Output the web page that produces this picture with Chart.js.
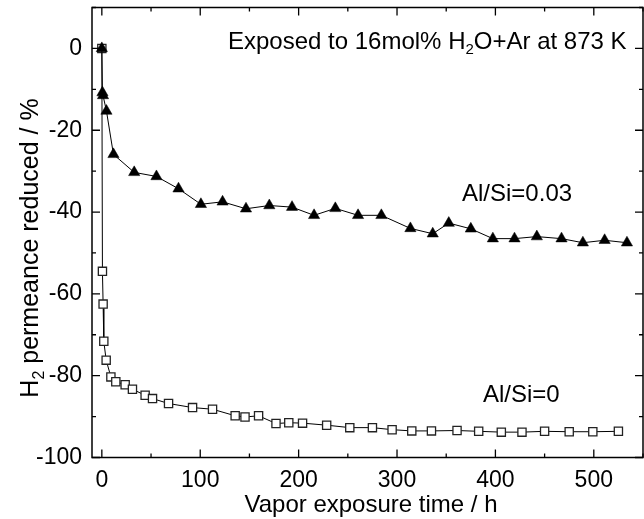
<!DOCTYPE html>
<html>
<head>
<meta charset="utf-8">
<script src="https://cdn.jsdelivr.net/npm/chart.js@4"></script>
<style>
  html, body { margin: 0; padding: 0; background: #fff; }
  #wrap { width: 644px; height: 519px; position: relative; }
</style>
</head>
<body>
<div id="wrap"><canvas id="chart" width="644" height="519"></canvas></div>
<script>
// Al/Si=0.03 (triangles)
const timeAl003 = [0, 0.6, 1.2, 4.7, 11.8, 32.9, 55.5, 77.9, 100.7, 122.7, 146.5, 170.2, 193.3, 215.7, 237.3, 260.4, 284.1, 313.6, 336.3, 352.6, 375, 397.4, 419.4, 442.1, 467.2, 488.9, 511, 533.7];
const reducedAl003 = [0, -10.8, -11.5, -15.3, -25.9, -30.3, -31.3, -34.3, -38.1, -37.5, -39.2, -38.4, -38.8, -40.8, -39.1, -40.8, -40.8, -44.0, -45.3, -42.7, -44.1, -46.5, -46.5, -46.0, -46.5, -47.5, -46.9, -47.5];

// Al/Si=0 (open squares)
const timeAl0 = [0, 0.6, 1.3, 2, 4.4, 9.2, 14.2, 23.7, 31.1, 44, 51.5, 67.8, 92.2, 112.5, 135.5, 145.5, 159.3, 177, 190, 204, 228.5, 252, 275, 295, 315, 335, 361, 383, 406, 427, 450, 475, 499, 525];
const reducedAl0 = [0, -54.5, -62.5, -71.6, -76.2, -80.3, -81.5, -82.2, -83.3, -84.8, -85.6, -86.8, -87.8, -88.2, -89.8, -90.1, -89.8, -91.7, -91.5, -91.6, -92.1, -92.7, -92.7, -93.2, -93.5, -93.5, -93.4, -93.6, -93.8, -93.8, -93.6, -93.7, -93.7, -93.6];

// оси
const xTickValues = [0, 100, 200, 300, 400, 500];
const xMinorValues = [50, 150, 250, 350, 450, 550];
const yTickValues = [0, -20, -40, -60, -80, -100];
const yMinorValues = [10, -10, -30, -50, -70, -90];

const FONT = "'Liberation Sans', Arial, sans-serif";

const toPoints = (xs, ys) => xs.map((x, i) => ({ x, y: ys[i] }));

// рамка, внутренние засечки и подписи
const framePlugin = {
  id: 'frame',
  afterDraw(chart) {
    const { ctx, chartArea: a, scales } = chart;
    const sx = scales.x, sy = scales.y;
    ctx.save();
    ctx.strokeStyle = '#000';
    ctx.lineWidth = 1.5;
    ctx.strokeRect(a.left, a.top, a.right - a.left, a.bottom - a.top);

    ctx.lineWidth = 1.3;
    ctx.beginPath();
    const tickX = (v, len) => {
      const px = sx.getPixelForValue(v);
      if (px < a.left || px > a.right) return;
      ctx.moveTo(px, a.bottom); ctx.lineTo(px, a.bottom - len);
      ctx.moveTo(px, a.top); ctx.lineTo(px, a.top + len);
    };
    const tickY = (v, len) => {
      const py = sy.getPixelForValue(v);
      if (py < a.top - 0.5 || py > a.bottom + 0.5) return;
      ctx.moveTo(a.left, py); ctx.lineTo(a.left + len, py);
      ctx.moveTo(a.right, py); ctx.lineTo(a.right - len, py);
    };
    xTickValues.forEach((v) => tickX(v, 8));
    xMinorValues.forEach((v) => tickX(v, 4));
    yTickValues.forEach((v) => tickY(v, 8));
    yMinorValues.forEach((v) => tickY(v, 4));
    ctx.stroke();

    ctx.fillStyle = '#000';
    ctx.textBaseline = 'alphabetic';

    // текст с подстрочным индексом
    const drawSub = (parts, x, y, size) => {
      let cx = x;
      parts.forEach(([txt, sub]) => {
        ctx.font = `${sub ? Math.round(size * 0.62) : size}px ${FONT}`;
        ctx.fillText(txt, cx, sub ? y + size * 0.22 : y);
        cx += ctx.measureText(txt).width;
      });
      return cx - x;
    };
    const measureSub = (parts, size) => {
      let w = 0;
      parts.forEach(([txt, sub]) => {
        ctx.font = `${sub ? Math.round(size * 0.62) : size}px ${FONT}`;
        w += ctx.measureText(txt).width;
      });
      return w;
    };

    drawSub([['Exposed to 16mol% H'], ['2', true], ['O+Ar at 873 K']], 228, 49, 24);

    ctx.font = `24px ${FONT}`;
    ctx.fillText('Al/Si=0.03', 462, 201);
    ctx.fillText('Al/Si=0', 483, 402);

    ctx.textAlign = 'center';
    ctx.fillText('Vapor exposure time / h', 371, 512);
    ctx.textAlign = 'left';

    const yTitle = [['H'], ['2', true], [' permeance reduced / %']];
    const w = measureSub(yTitle, 25);
    ctx.translate(38, 248);
    ctx.rotate(-Math.PI / 2);
    drawSub(yTitle, -w / 2, 0, 25);
    ctx.restore();
  },
};

const ctx = document.getElementById('chart').getContext('2d');
new Chart(ctx, {
  type: 'scatter',
  data: {
    datasets: [
      {
        label: 'Al/Si=0.03',
        data: toPoints(timeAl003, reducedAl003),
        showLine: true,
        borderColor: '#000',
        borderWidth: 1,
        backgroundColor: '#000',
        pointStyle: 'triangle',
        pointRadius: 6.5,
        pointBorderWidth: 0.5,
        pointBorderColor: '#000',
        pointBackgroundColor: '#000',
      },
      {
        label: 'Al/Si=0',
        data: toPoints(timeAl0, reducedAl0),
        showLine: true,
        borderColor: '#000',
        borderWidth: 1,
        pointStyle: 'rect',
        pointRadius: 5.8,
        pointBorderWidth: 1.3,
        pointBorderColor: '#222',
        pointBackgroundColor: '#fff',
      },
    ],
  },
  options: {
    animation: false,
    responsive: false,
    devicePixelRatio: 1,
    layout: { autoPadding: false, padding: { left: 0, right: 1, top: 7.5, bottom: 0 } },
    plugins: { legend: { display: false }, tooltip: { enabled: false } },
    scales: {
      x: {
        type: 'linear',
        min: -10,
        max: 550,
        grid: { display: false, drawTicks: false },
        border: { display: false },
        afterBuildTicks: (scale) => { scale.ticks = xTickValues.map((value) => ({ value })); },
        afterFit: (scale) => {
          scale.height = 61.5;
          scale.paddingLeft = 0;
          scale.paddingRight = 0;
        },
        ticks: {
          padding: 9,
          color: '#000',
          font: { family: FONT, size: 23 },
          maxRotation: 0,
        },
      },
      y: {
        type: 'linear',
        min: -100,
        max: 10,
        grid: { display: false, drawTicks: false },
        border: { display: false },
        afterBuildTicks: (scale) => { scale.ticks = yTickValues.map((value) => ({ value })); },
        afterFit: (scale) => {
          scale.width = 92;
          scale.paddingTop = 0;
          scale.paddingBottom = 0;
        },
        ticks: {
          padding: 10,
          color: '#000',
          font: { family: FONT, size: 23 },
        },
      },
    },
  },
  plugins: [framePlugin],
});
</script>
</body>
</html>
